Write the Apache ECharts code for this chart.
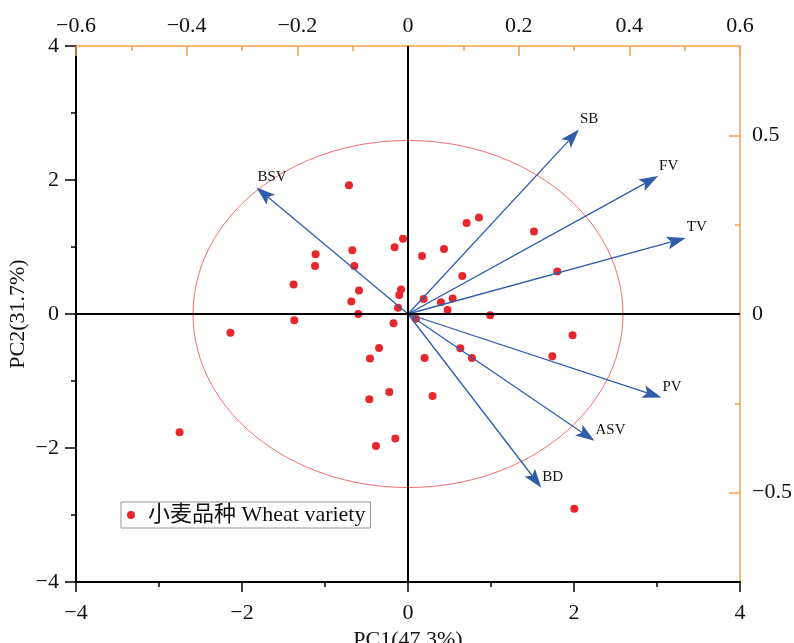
<!DOCTYPE html>
<html><head><meta charset="utf-8">
<script src="https://cdn.jsdelivr.net/npm/echarts@6/dist/echarts.min.js"></script>
<style>html,body{margin:0;padding:0;background:#fff}#c{width:794px;height:643px}</style>
</head><body><div id="c"></div>
<script>
const seriesName = '小麦品种 Wheat variety';
const xAxisTitle = 'PC1(47.3%)';
const yAxisTitle = 'PC2(31.7%)';
// PCA scores (bottom/left axes)
const scoreX = [-0.711,-1.113,-1.12,-0.671,-0.647,-0.161,-1.378,-0.59,-0.683,-0.599,-1.37,-0.175,-2.139,-0.349,-0.458,-0.225,-0.466,-2.752,-0.153,-0.386,-0.06,0.706,0.855,1.518,0.434,0.169,0.654,1.799,0.188,0.538,0.397,0.477,0.99,-0.084,-0.105,0.096,1.983,0.63,0.771,0.2,1.739,0.296,2.004,-0.12];
const scoreY = [1.921,0.891,0.716,0.951,0.716,0.996,0.439,0.349,0.185,0.0,-0.094,-0.137,-0.278,-0.507,-0.666,-1.164,-1.273,-1.766,-1.86,-1.97,1.122,1.36,1.439,1.23,0.97,0.866,0.567,0.633,0.225,0.23,0.175,0.06,-0.019,0.364,0.284,-0.072,-0.318,-0.51,-0.657,-0.657,-0.631,-1.224,-2.905,0.095];
// Loadings (top/right axes)
const loadingNames = ['SB','FV','TV','BSV','PV','ASV','BD'];
const loadingX = [0.309,0.452,0.502,-0.274,0.458,0.337,0.241];
const loadingY = [0.516,0.386,0.213,0.354,-0.234,-0.355,-0.486];
const ellipseRadius = [2.59, 2.59];
// Axis ranges / ticks
const scoreRange = [-4, 4], scoreInterval = 2;
const topRange = [-0.6, 0.6], topInterval = 0.2;
const rightRange = [-0.75, 0.75];
const rightTicks = [-0.5, 0, 0.5];
const rightMinorTicks = [-0.25, 0.25];

const FONT = '"Liberation Serif","Noto Sans CJK SC",serif';
const ORANGE = '#F5A04E';
const BLUE = '#2F5DAA';
const RED = '#E8272C';
const TXT = '#111';

function fmt(v){ const r = parseFloat((+v).toFixed(3)); return (r < 0 ? '\u2212' : '') + Math.abs(r); }

const scoreData = scoreX.map((x,i)=>[x, scoreY[i]]);
const loadData = loadingX.map((x,i)=>[x, loadingY[i]]);

const chart = echarts.init(document.getElementById('c'), null, {renderer:'canvas'});
const blackAxis = (pos, margin, tickLen) => ({
  type:'value', position:pos, min:scoreRange[0], max:scoreRange[1], interval:scoreInterval,
  axisLine:{show:true, onZero:false, lineStyle:{color:'#000', width:2}},
  axisTick:{show:true, inside:false, length:tickLen, lineStyle:{color:'#000', width:1.5}},
  minorTick:{show:true, splitNumber:2, length:5, lineStyle:{color:'#000', width:1.5}},
  splitLine:{show:false}, minorSplitLine:{show:false},
  axisLabel:{fontSize:22, fontFamily:FONT, color:TXT, margin:margin, formatter:fmt},
  nameTextStyle:{fontSize:22, fontFamily:FONT, color:TXT}
});
const xBottom = Object.assign(blackAxis('bottom', 20, 10), {name:xAxisTitle, nameLocation:'middle', nameGap:43});
const yLeft = Object.assign(blackAxis('left', 17, 11), {name:yAxisTitle, nameLocation:'middle', nameGap:47, nameMoveOverlap:false});

const option = {
  backgroundColor:'#fff',
  animation:false,
  grid:{left:76, right:54, top:46, bottom:61, containLabel:false, outerBoundsMode:'none'},
  legend:{
    data:[seriesName], left:121, top:502, orient:'horizontal',
    borderColor:'#999', borderWidth:1, padding:[2,5,2,6],
    itemWidth:8, itemHeight:8, icon:'circle',
    textStyle:{fontSize:22, fontFamily:FONT, color:TXT, padding:[0,0,0,8]}
  },
  xAxis:[
    xBottom,
    {
      type:'value', position:'top', min:topRange[0], max:topRange[1], interval:topInterval,
      axisLine:{show:true, onZero:false, lineStyle:{color:ORANGE, width:1.5}},
      axisTick:{show:true, inside:true, length:10, lineStyle:{color:ORANGE, width:1.5}},
      minorTick:{show:true, splitNumber:2, length:5, lineStyle:{color:ORANGE, width:1.5}},
      splitLine:{show:false},
      axisLabel:{fontSize:22, fontFamily:FONT, color:TXT, margin:9, formatter:fmt}
    }
  ],
  yAxis:[
    yLeft,
    {
      type:'value', position:'right', min:rightRange[0], max:rightRange[1], interval:0.25,
      axisLine:{show:true, onZero:false, lineStyle:{color:ORANGE, width:1.5}},
      axisTick:{show:true, inside:true, length:11, customValues:rightTicks, lineStyle:{color:ORANGE, width:1.5}},
      minorTick:{show:false},
      splitLine:{show:false},
      axisLabel:{fontSize:22, fontFamily:FONT, color:TXT, margin:12, customValues:rightTicks, formatter:fmt}
    },
    {
      type:'value', position:'right', min:rightRange[0], max:rightRange[1], interval:0.25,
      axisLine:{show:false, onZero:false},
      axisTick:{show:true, inside:true, length:5, customValues:rightMinorTicks, lineStyle:{color:ORANGE, width:1.5}},
      axisLabel:{show:false},
      splitLine:{show:false}
    }
  ],
  series:[
    {
      type:'custom', name:'ellipse', xAxisIndex:0, yAxisIndex:0, z:1, silent:true,
      data:[[0,0]],
      renderItem:function(params, api){
        const c = api.coord([api.value(0), api.value(1)]);
        const sx = api.size([ellipseRadius[0], 0])[0];
        const sy = api.size([0, ellipseRadius[1]])[1];
        return {type:'ellipse', shape:{cx:c[0], cy:c[1], rx:sx, ry:sy},
          style:{fill:'none', stroke:'#F04848', lineWidth:0.8}};
      },
      markLine:{silent:true, symbol:['none','none'], label:{show:false},
        lineStyle:{color:'#000', width:2, type:'solid'},
        data:[{xAxis:0},{yAxis:0}]}
    },
    {
      type:'scatter', name:seriesName, xAxisIndex:0, yAxisIndex:0, z:3,
      symbol:'circle', symbolSize:8,
      itemStyle:{color:RED, opacity:1},
      data:scoreData
    },
    {
      type:'custom', name:'loadings', xAxisIndex:1, yAxisIndex:1, z:4, silent:true,
      data:loadData,
      renderItem:function(params, api){
        const o = api.coord([0,0]);
        const t = api.coord([api.value(0), api.value(1)]);
        const dx=t[0]-o[0], dy=t[1]-o[1], L=Math.hypot(dx,dy);
        const ux=dx/L, uy=dy/L, px=-uy, py=ux;
        const hl=19, hw=6.5, notch=4;
        const bx=t[0]-ux*hl, by=t[1]-uy*hl;
        const nx=t[0]-ux*(hl-notch), ny=t[1]-uy*(hl-notch);
        return {type:'group', children:[
          {type:'line', shape:{x1:o[0], y1:o[1], x2:nx, y2:ny}, style:{stroke:BLUE, lineWidth:1.3}},
          {type:'polygon', shape:{points:[[t[0],t[1]],[bx+px*hw,by+py*hw],[nx,ny],[bx-px*hw,by-py*hw]]}, style:{fill:BLUE}},
          {type:'text', x:t[0]+1, y:t[1]-3, style:{text:loadingNames[params.dataIndex], fontSize:15, fontFamily:FONT, fill:'#111', align:'left', verticalAlign:'bottom'}}
        ]};
      }
    }
  ]
};
chart.setOption(option);
</script></body></html>
